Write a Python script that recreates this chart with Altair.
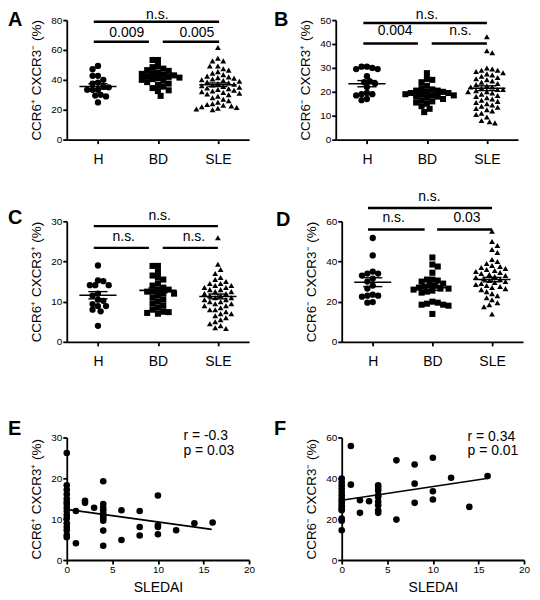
import altair as alt
import pandas as pd

FONT = "Liberation Sans"
GROUPS = ["H", "BD", "SLE"]
SHAPES = ["circle", "square", "triangle-up"]

# ---------------- Panel A : CCR6+ CXCR3- ----------------
A_H = [49.3, 47.1, 42.7, 42.7, 40.0, 38.2, 37.5, 35.5, 35.0, 33.3, 33.3, 33.3, 30.0, 29.5, 28.9, 24.9]
A_BD = [53.3, 53.3, 49.3, 48.5, 47.5, 46.5, 46.0, 45.0, 44.5, 44.0, 43.5, 43.0, 42.5, 42.0, 41.5, 41.0,
        40.5, 40.0, 39.5, 38.5, 37.5, 36.5, 35.5, 34.5, 33.0, 32.5, 29.3]
A_SLE = [61.7, 54.4, 52.7, 52.7, 49.3, 49.3, 47.5, 46.5, 45.5, 44.5, 43.5, 42.5, 42.0, 41.5, 41.0, 40.5,
         40.0, 39.5, 39.0, 38.5, 38.0, 37.5, 37.0, 36.5, 36.0, 35.5, 35.0, 34.5, 34.0, 33.5, 33.0, 32.5,
         32.0, 31.5, 31.0, 30.5, 30.0, 29.0, 28.0, 27.0, 26.0, 25.0, 24.0, 23.5, 23.0, 22.5, 22.0, 21.5,
         21.0, 20.5, 20.0]
A_MEAN = [35.6, 42.0, 36.7]
A_SEM = [1.8, 1.1, 1.2]

# ---------------- Panel B : CCR6- CXCR3+ ----------------
B_H = [30.5, 30.5, 30.0, 29.5, 29.5, 26.5, 24.5, 24.0, 23.5, 22.0, 19.5, 19.0, 19.0, 18.5, 17.0, 16.5]
B_BD = [27.8, 25.4, 25.0, 24.0, 22.5, 21.5, 21.0, 20.5, 20.5, 20.0, 20.0, 19.5, 19.5, 19.0, 19.0, 18.5,
        18.5, 18.0, 18.0, 17.5, 17.0, 16.5, 16.0, 15.5, 15.0, 14.0, 12.9, 11.5]
B_SLE = [43.0, 37.2, 36.3, 30.0, 29.5, 29.0, 29.0, 28.5, 28.0, 27.5, 27.0, 26.5, 26.0, 25.5, 25.0, 24.5,
         24.0, 23.5, 23.0, 22.5, 22.0, 22.0, 21.5, 21.0, 21.0, 20.5, 20.0, 20.0, 19.5, 19.0, 18.5, 18.0,
         17.5, 17.0, 16.5, 16.0, 15.5, 15.0, 14.5, 14.0, 13.5, 13.0, 12.5, 12.0, 11.0, 10.5, 9.5, 8.0,
         7.5, 7.0]
B_MEAN = [23.4, 19.3, 21.5]
B_SEM = [1.3, 0.7, 1.0]

# ---------------- Panel C : CCR6+ CXCR3+ ----------------
C_H = [19.0, 15.3, 15.1, 14.1, 14.1, 14.1, 12.0, 11.5, 10.5, 10.2, 9.4, 8.9, 8.9, 8.0, 7.6, 4.0]
C_BD = [18.9, 18.9, 17.4, 16.5, 16.0, 15.5, 14.5, 14.0, 13.5, 13.0, 13.0, 12.5, 12.5, 12.0, 12.0, 11.5,
        11.0, 10.5, 10.0, 9.5, 9.0, 8.5, 8.0, 7.5, 7.4, 7.2, 7.0]
C_SLE = [25.9, 19.3, 18.0, 17.0, 16.0, 15.5, 15.0, 14.5, 14.5, 14.0, 14.0, 13.5, 13.5, 13.0, 13.0, 12.5,
         12.5, 12.0, 12.0, 11.5, 11.5, 11.0, 11.0, 10.5, 10.5, 10.0, 10.0, 9.5, 9.5, 9.0, 9.0, 8.5,
         8.0, 8.0, 7.5, 7.0, 7.0, 6.5, 6.0, 5.5, 5.0, 4.5, 4.0, 3.5, 3.3]
C_MEAN = [11.6, 12.8, 11.3]
C_SEM = [0.9, 0.6, 0.6]

# ---------------- Panel D : CCR6- CXCR3- ----------------
D_H = [51.7, 43.0, 35.0, 34.0, 34.0, 33.0, 31.5, 30.0, 28.0, 26.5, 23.5, 23.0, 23.0, 22.5, 19.8, 19.5]
D_BD = [42.0, 38.5, 37.5, 34.4, 31.0, 31.0, 30.5, 30.0, 29.0, 28.5, 28.0, 27.5, 27.0, 26.5, 26.5, 26.0,
        25.5, 25.0, 24.5, 20.0, 19.5, 19.0, 18.5, 18.5, 18.0, 13.9]
D_SLE = [55.0, 50.0, 48.0, 46.0, 44.5, 41.0, 40.0, 39.0, 38.0, 37.5, 37.0, 36.5, 36.0, 35.5, 35.0, 34.5,
         34.0, 33.5, 33.0, 32.5, 32.0, 31.5, 31.0, 30.5, 30.0, 29.5, 29.0, 28.5, 28.0, 27.5, 27.0, 26.5,
         26.0, 25.0, 24.0, 23.0, 22.0, 21.0, 19.5, 18.5, 17.5, 13.9]
D_MEAN = [29.7, 26.9, 31.0]
D_SEM = [2.2, 1.2, 1.1]

# ---------------- Panel E : SLEDAI vs CCR6+ CXCR3+ ----------------
E_SLEDAI = [0] * 16 + [1, 1, 2, 2, 3] + [4] * 10 + [6, 6, 8, 8, 8, 10, 10, 10, 10, 12, 14, 16]
E_VAL = [26.2, 18.3, 17.2, 16.1, 15.0, 14.2, 13.7, 12.8, 12.0, 11.0, 10.2, 9.0, 8.1, 7.3, 6.1, 5.6,
         12.0, 4.1, 14.5, 14.0, 12.8,
         19.3, 13.7, 12.8, 12.2, 11.4, 10.7, 10.2, 9.6, 7.2, 3.5,
         12.2, 4.9, 12.0, 8.1, 6.0, 15.8, 8.5, 8.1, 6.3, 7.3, 9.0, 9.2]
E_FIT_X = [0, 15.9]
E_FIT_Y = [12.4, 7.5]

# ---------------- Panel F : SLEDAI vs CCR6- CXCR3- ----------------
F_SLEDAI = [0] * 15 + [1, 1, 2, 2, 3] + [4] * 9 + [6, 6, 8, 8, 8, 10, 10, 10, 12, 14, 16]
F_VAL = [39.9, 38.2, 36.6, 35.0, 33.3, 31.7, 30.1, 28.9, 27.6, 26.3, 25.2, 24.4, 20.3, 19.2, 14.6,
         55.8, 36.9, 29.3, 23.1, 28.8,
         36.6, 35.4, 34.1, 31.7, 30.9, 28.5, 26.8, 24.4, 23.1,
         48.8, 19.8, 46.8, 37.4, 28.0, 50.1, 33.7, 29.6, 40.3, 26.0, 41.1]
F_FIT_X = [0, 15.9]
F_FIT_Y = [29.3, 39.9]

XMIN, XMAX = -0.52, 2.52


def swarm(values, ypx, diam=5.4, step=2.7):
    """Beeswarm layout: horizontal pixel offsets so markers do not overlap much."""
    placed = []
    offs = [0.0] * len(values)
    order = sorted(range(len(values)), key=lambda i: -values[i])
    for n, i in enumerate(order):
        y = values[i] * ypx
        sgn = 1 if n % 2 == 0 else -1
        cands = [0] + [s * j for j in range(1, 80) for s in (sgn, -sgn)]
        x = 0.0
        for c in cands:
            x = c * step
            if all((x - px) ** 2 + (y - py) ** 2 >= diam * diam for px, py in placed):
                break
        placed.append((x, y))
        offs[i] = x
    return offs


def letter_layer(letter, lx, ly):
    return alt.Chart(pd.DataFrame({"t": [letter]})).mark_text(
        align="left", baseline="alphabetic", fontSize=20, fontWeight="bold", font=FONT, color="black"
    ).encode(x=alt.value(lx), y=alt.value(ly), text="t:N")


def dot_panel(vals, means, sems, ymax, yticks, ytitle, width, height, xr, ytop, yoff,
              lines, texts, letter, lx, ly):
    plot_h = height - ytop
    ypx = plot_h / ymax
    xpx = (xr[1] - xr[0]) / (XMAX - XMIN)
    rows = []
    for gi, g in enumerate(GROUPS):
        offs = swarm(vals[gi], ypx)
        for v, o in zip(vals[gi], offs):
            rows.append({"grp": g, "x": gi + o / xpx, "y": v})
    pts = pd.DataFrame(rows)
    xs = alt.Scale(domain=[XMIN, XMAX], range=list(xr), nice=False, zero=False)
    ys = alt.Scale(domain=[0, ymax], range=[height, ytop], nice=False, zero=False)
    xaxis = alt.Axis(values=[0, 1, 2],
                     labelExpr="datum.value == 0 ? 'H' : (datum.value == 1 ? 'BD' : 'SLE')",
                     labelFontSize=14, labelPadding=9, title=None, labelFlush=False)
    yaxis = alt.Axis(values=yticks, title=ytitle, offset=yoff, format="d")

    def X(f):
        return alt.X(f, scale=xs, axis=xaxis)

    def Y(f):
        return alt.Y(f, scale=ys, axis=yaxis)

    points = alt.Chart(pts).mark_point(filled=True, opacity=1, color="black", strokeWidth=0).encode(
        x=X("x:Q"), y=Y("y:Q"),
        shape=alt.Shape("grp:N", scale=alt.Scale(domain=GROUPS, range=SHAPES), legend=None),
        size=alt.Size("grp:O", scale=alt.Scale(domain=GROUPS, range=[40, 34, 46]), legend=None),
    )
    st = pd.DataFrame({"gi": [0, 1, 2], "mean": means, "sem": sems})
    base = alt.Chart(st).transform_calculate(
        a="datum.gi - 0.31", b="datum.gi + 0.31",
        ca="datum.gi - 0.16", cb="datum.gi + 0.16",
        lo="datum.mean - datum.sem", hi="datum.mean + datum.sem",
    )
    mean_rule = base.mark_rule(color="black", strokeWidth=1.6).encode(
        x=X("a:Q"), x2="b:Q", y=Y("mean:Q"))
    sem_rule = base.mark_rule(color="black", strokeWidth=1.4).encode(
        x=X("gi:Q"), y=Y("lo:Q"), y2="hi:Q")
    cap_lo = base.mark_rule(color="black", strokeWidth=1.4).encode(
        x=X("ca:Q"), x2="cb:Q", y=Y("lo:Q"))
    cap_hi = base.mark_rule(color="black", strokeWidth=1.4).encode(
        x=X("ca:Q"), x2="cb:Q", y=Y("hi:Q"))

    ldf = pd.DataFrame(lines, columns=["x1", "x2", "y"])
    sig_lines = alt.Chart(ldf).mark_rule(color="black", strokeWidth=2.4).encode(
        x=X("x1:Q"), x2="x2:Q", y=Y("y:Q"))
    tdf = pd.DataFrame(texts, columns=["t", "x", "y"])
    sig_text = alt.Chart(tdf).mark_text(
        fontSize=14, font=FONT, baseline="alphabetic", align="center", color="black"
    ).encode(x=X("x:Q"), y=Y("y:Q"), text="t:N")

    return alt.layer(points, mean_rule, sem_rule, cap_lo, cap_hi, sig_lines, sig_text,
                     letter_layer(letter, lx, ly)).properties(width=width, height=height)


def scatter_panel(sx, sy, fx, fy, ymax, yticks, ytitle, width, height, xr, ytop, yoff,
                  rtext, ptext, tx, ty1, ty2, letter, lx, ly):
    xs = alt.Scale(domain=[0, 20], range=list(xr), nice=False, zero=False)
    ys = alt.Scale(domain=[0, ymax], range=[height, ytop], nice=False, zero=False)
    xaxis = alt.Axis(values=[0, 5, 10, 15, 20], title="SLEDAI", titleFontSize=14, titlePadding=6,
                     labelFlush=False, format="d")
    yaxis = alt.Axis(values=yticks, title=ytitle, offset=yoff, format="d")

    def X(f):
        return alt.X(f, scale=xs, axis=xaxis)

    def Y(f):
        return alt.Y(f, scale=ys, axis=yaxis)

    pts = pd.DataFrame({"x": sx, "y": sy})
    points = alt.Chart(pts).mark_circle(color="black", opacity=1, size=44).encode(x=X("x:Q"), y=Y("y:Q"))
    fit = alt.Chart(pd.DataFrame({"x": fx, "y": fy})).mark_line(color="black", strokeWidth=1.6).encode(
        x=X("x:Q"), y=Y("y:Q"))
    tdf = pd.DataFrame({"t": [rtext, ptext], "x": [tx, tx], "y": [ty1, ty2]})
    txt = alt.Chart(tdf).mark_text(fontSize=14, font=FONT, align="left", baseline="alphabetic",
                                   color="black").encode(x=X("x:Q"), y=Y("y:Q"), text="t:N")
    return alt.layer(points, fit, txt, letter_layer(letter, lx, ly)).properties(width=width, height=height)


pA = dot_panel([A_H, A_BD, A_SLE], A_MEAN, A_SEM, 80, [0, 20, 40, 60, 80], "CCR6⁺ CXCR3⁻ (%)",
               183, 120, (0, 183), 0, 0,
               [(-0.07, 2.02, 78.9), (-0.07, 0.85, 65.5), (1.08, 2.02, 65.5)],
               [("n.s.", 0.99, 80.8), ("0.009", 0.48, 68.9), ("0.005", 1.65, 68.9)],
               "A", -59, 6)
pB = dot_panel([B_H, B_BD, B_SLE], B_MEAN, B_SEM, 50, [0, 10, 20, 30, 40, 50], "CCR6⁻ CXCR3⁺ (%)",
               183, 120, (0, 183), 0, 0,
               [(-0.06, 2.0, 48.75), (-0.06, 0.85, 40.2), (1.08, 2.0, 40.2)],
               [("n.s.", 1.0, 50.4), ("0.004", 0.47, 43.6), ("n.s.", 1.56, 43.6)],
               "B", -62, 6)
pC = dot_panel([C_H, C_BD, C_SLE], C_MEAN, C_SEM, 30, [0, 10, 20, 30], "CCR6⁺ CXCR3⁺ (%)",
               183, 121, (0, 183), 0, 0,
               [(-0.07, 2.0, 28.8), (-0.07, 0.85, 23.4), (1.08, 2.0, 23.4)],
               [("n.s.", 1.03, 30.4), ("n.s.", 0.43, 25.1), ("n.s.", 1.6, 25.1)],
               "C", -59, 3)
pD = dot_panel([D_H, D_BD, D_SLE], D_MEAN, D_SEM, 60, [0, 20, 40, 60], "CCR6⁻ CXCR3⁻ (%)",
               189, 121, (6, 188), 0, -6,
               [(-0.08, 2.0, 66.6), (-0.08, 0.87, 55.9), (1.08, 2.0, 55.9)],
               [("n.s.", 0.95, 70.2), ("n.s.", 0.35, 59.6), ("0.03", 1.58, 59.6)],
               "D", -60, 5)
pE = scatter_panel(E_SLEDAI, E_VAL, E_FIT_X, E_FIT_Y, 30, [0, 10, 20, 30], "CCR6⁺ CXCR3⁺ (%)",
                   183, 137, (0, 183), 14, 0, "r = -0.3", "p = 0.03", 12.8, 29.3, 25.8,
                   "E", -59, 12)
pF = scatter_panel(F_SLEDAI, F_VAL, F_FIT_X, F_FIT_Y, 60, [0, 20, 40, 60], "CCR6⁻ CXCR3⁻ (%)",
                   189, 137, (6, 189), 14, -6, "r = 0.34", "p = 0.01", 13.8, 58.5, 51.6,
                   "F", -62, 12)

chart = alt.concat(
    pA, pB, pC, pD, pE, pF, columns=2,
    spacing={"row": 82, "column": 87}, bounds="flush", align="each",
).properties(
    padding={"left": 0, "top": -2, "right": 2, "bottom": 2}
).configure_view(stroke=None).configure_axis(
    domainColor="black", domainWidth=1.8, tickColor="black", tickWidth=1.8, tickSize=4,
    labelColor="black", labelFont=FONT, labelFontSize=10, labelPadding=1,
    titleFont=FONT, titleFontSize=13.5, titleFontWeight="normal", titleColor="black",
    titlePadding=7, grid=False,
)

chart.save("out.html", embed_options={"renderer": "svg", "actions": False})
